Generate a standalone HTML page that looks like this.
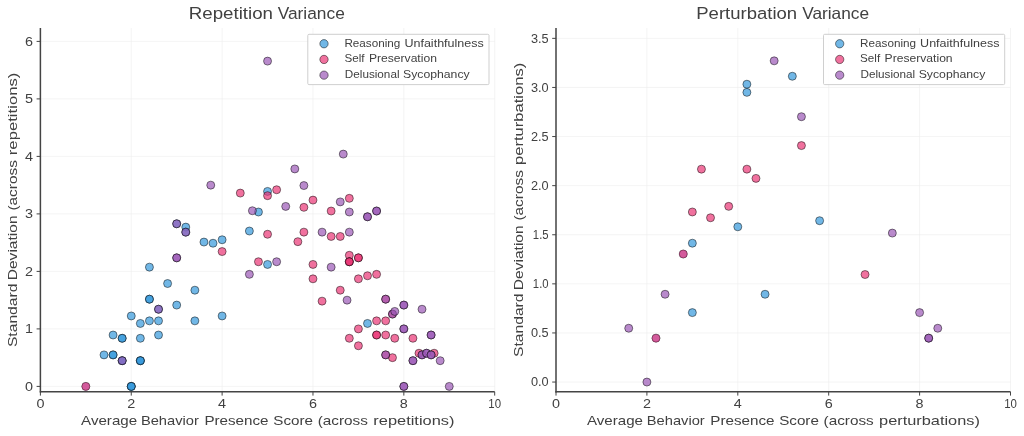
<!DOCTYPE html>
<html><head><meta charset="utf-8"><title>Variance</title>
<style>
html,body{margin:0;padding:0;background:#fff;}
body{width:1024px;height:436px;overflow:hidden;font-family:"Liberation Sans",sans-serif;}
svg{display:block;will-change:transform}
svg text{font-family:"Liberation Sans",sans-serif;filter:grayscale(1)}
</style></head><body>
<svg width="1024" height="436" viewBox="0 0 1024 436">
<rect width="1024" height="436" fill="#fff"/>
<g>
<line x1="40.40" y1="28" x2="40.40" y2="391.8" stroke="#ececec" stroke-width="0.6"/>
<line x1="131.26" y1="28" x2="131.26" y2="391.8" stroke="#ececec" stroke-width="0.6"/>
<line x1="222.12" y1="28" x2="222.12" y2="391.8" stroke="#ececec" stroke-width="0.6"/>
<line x1="312.98" y1="28" x2="312.98" y2="391.8" stroke="#ececec" stroke-width="0.6"/>
<line x1="403.84" y1="28" x2="403.84" y2="391.8" stroke="#ececec" stroke-width="0.6"/>
<line x1="494.70" y1="28" x2="494.70" y2="391.8" stroke="#ececec" stroke-width="0.6"/>
<line x1="40.4" y1="386.40" x2="494.70" y2="386.40" stroke="#ececec" stroke-width="0.6"/>
<line x1="40.4" y1="328.90" x2="494.70" y2="328.90" stroke="#ececec" stroke-width="0.6"/>
<line x1="40.4" y1="271.40" x2="494.70" y2="271.40" stroke="#ececec" stroke-width="0.6"/>
<line x1="40.4" y1="213.90" x2="494.70" y2="213.90" stroke="#ececec" stroke-width="0.6"/>
<line x1="40.4" y1="156.40" x2="494.70" y2="156.40" stroke="#ececec" stroke-width="0.6"/>
<line x1="40.4" y1="98.90" x2="494.70" y2="98.90" stroke="#ececec" stroke-width="0.6"/>
<line x1="40.4" y1="41.40" x2="494.70" y2="41.40" stroke="#ececec" stroke-width="0.6"/>
<g fill-opacity="0.7" stroke="#000" stroke-opacity="0.6" stroke-width="0.8">
<circle cx="131.26" cy="386.40" r="4.0" fill="#3498db"/>
<circle cx="131.26" cy="386.40" r="4.0" fill="#3498db"/>
<circle cx="131.26" cy="386.40" r="4.0" fill="#3498db"/>
<circle cx="104.00" cy="354.89" r="4.0" fill="#3498db"/>
<circle cx="113.09" cy="354.89" r="4.0" fill="#3498db"/>
<circle cx="113.09" cy="354.89" r="4.0" fill="#3498db"/>
<circle cx="140.35" cy="360.70" r="4.0" fill="#3498db"/>
<circle cx="140.35" cy="360.70" r="4.0" fill="#3498db"/>
<circle cx="140.35" cy="360.70" r="4.0" fill="#3498db"/>
<circle cx="113.09" cy="335.00" r="4.0" fill="#3498db"/>
<circle cx="122.17" cy="338.27" r="4.0" fill="#3498db"/>
<circle cx="122.17" cy="338.27" r="4.0" fill="#3498db"/>
<circle cx="140.35" cy="338.27" r="4.0" fill="#3498db"/>
<circle cx="158.52" cy="335.00" r="4.0" fill="#3498db"/>
<circle cx="131.26" cy="315.96" r="4.0" fill="#3498db"/>
<circle cx="140.35" cy="323.44" r="4.0" fill="#3498db"/>
<circle cx="149.43" cy="320.85" r="4.0" fill="#3498db"/>
<circle cx="158.52" cy="320.85" r="4.0" fill="#3498db"/>
<circle cx="149.43" cy="299.17" r="4.0" fill="#3498db"/>
<circle cx="149.43" cy="299.17" r="4.0" fill="#3498db"/>
<circle cx="167.60" cy="283.53" r="4.0" fill="#3498db"/>
<circle cx="176.69" cy="305.09" r="4.0" fill="#3498db"/>
<circle cx="194.86" cy="320.85" r="4.0" fill="#3498db"/>
<circle cx="222.12" cy="315.96" r="4.0" fill="#3498db"/>
<circle cx="194.86" cy="290.20" r="4.0" fill="#3498db"/>
<circle cx="149.43" cy="267.14" r="4.0" fill="#3498db"/>
<circle cx="185.78" cy="227.12" r="4.0" fill="#3498db"/>
<circle cx="203.95" cy="242.07" r="4.0" fill="#3498db"/>
<circle cx="213.03" cy="243.22" r="4.0" fill="#3498db"/>
<circle cx="222.12" cy="239.77" r="4.0" fill="#3498db"/>
<circle cx="249.38" cy="231.03" r="4.0" fill="#3498db"/>
<circle cx="267.55" cy="264.44" r="4.0" fill="#3498db"/>
<circle cx="367.50" cy="323.44" r="4.0" fill="#3498db"/>
<circle cx="267.55" cy="191.42" r="4.0" fill="#3498db"/>
<circle cx="258.46" cy="212.00" r="4.0" fill="#3498db"/>
<circle cx="222.12" cy="251.56" r="4.0" fill="#e93575"/>
<circle cx="267.55" cy="234.25" r="4.0" fill="#e93575"/>
<circle cx="258.46" cy="261.74" r="4.0" fill="#e93575"/>
<circle cx="297.85" cy="241.67" r="4.0" fill="#e93575"/>
<circle cx="303.89" cy="232.13" r="4.0" fill="#e93575"/>
<circle cx="331.15" cy="236.44" r="4.0" fill="#e93575"/>
<circle cx="340.24" cy="236.44" r="4.0" fill="#e93575"/>
<circle cx="312.98" cy="264.44" r="4.0" fill="#e93575"/>
<circle cx="312.98" cy="278.82" r="4.0" fill="#e93575"/>
<circle cx="349.32" cy="255.30" r="4.0" fill="#e93575"/>
<circle cx="349.32" cy="261.74" r="4.0" fill="#e93575"/>
<circle cx="349.32" cy="261.74" r="4.0" fill="#e93575"/>
<circle cx="349.32" cy="261.74" r="4.0" fill="#e93575"/>
<circle cx="358.41" cy="257.83" r="4.0" fill="#e93575"/>
<circle cx="358.41" cy="257.83" r="4.0" fill="#e93575"/>
<circle cx="358.41" cy="278.82" r="4.0" fill="#e93575"/>
<circle cx="367.50" cy="275.77" r="4.0" fill="#e93575"/>
<circle cx="376.58" cy="274.33" r="4.0" fill="#e93575"/>
<circle cx="322.07" cy="301.13" r="4.0" fill="#e93575"/>
<circle cx="340.24" cy="290.20" r="4.0" fill="#e93575"/>
<circle cx="376.58" cy="320.85" r="4.0" fill="#e93575"/>
<circle cx="385.67" cy="320.85" r="4.0" fill="#e93575"/>
<circle cx="358.41" cy="328.90" r="4.0" fill="#e93575"/>
<circle cx="349.32" cy="338.27" r="4.0" fill="#e93575"/>
<circle cx="358.41" cy="345.75" r="4.0" fill="#e93575"/>
<circle cx="376.58" cy="335.00" r="4.0" fill="#e93575"/>
<circle cx="376.58" cy="335.00" r="4.0" fill="#e93575"/>
<circle cx="385.67" cy="335.00" r="4.0" fill="#e93575"/>
<circle cx="394.75" cy="338.27" r="4.0" fill="#e93575"/>
<circle cx="412.93" cy="338.27" r="4.0" fill="#e93575"/>
<circle cx="392.48" cy="357.65" r="4.0" fill="#e93575"/>
<circle cx="418.97" cy="353.22" r="4.0" fill="#e93575"/>
<circle cx="434.14" cy="353.22" r="4.0" fill="#e93575"/>
<circle cx="85.83" cy="386.40" r="4.0" fill="#9b59b6"/>
<circle cx="85.83" cy="386.40" r="4.0" fill="#e93575" fill-opacity="0.55" stroke-opacity="0.2"/>
<circle cx="240.29" cy="193.08" r="4.0" fill="#e93575"/>
<circle cx="267.55" cy="195.67" r="4.0" fill="#e93575"/>
<circle cx="276.64" cy="189.75" r="4.0" fill="#e93575"/>
<circle cx="312.98" cy="200.10" r="4.0" fill="#e93575"/>
<circle cx="303.89" cy="207.34" r="4.0" fill="#e93575"/>
<circle cx="331.15" cy="211.02" r="4.0" fill="#e93575"/>
<circle cx="349.32" cy="198.32" r="4.0" fill="#e93575"/>
<circle cx="122.17" cy="360.70" r="4.0" fill="#3498db"/>
<circle cx="122.17" cy="360.70" r="4.0" fill="#3498db"/>
<circle cx="122.17" cy="360.70" r="4.0" fill="#9b59b6"/>
<circle cx="158.52" cy="309.23" r="4.0" fill="#3498db"/>
<circle cx="158.52" cy="309.23" r="4.0" fill="#9b59b6"/>
<circle cx="176.69" cy="257.83" r="4.0" fill="#9b59b6"/>
<circle cx="176.69" cy="257.83" r="4.0" fill="#9b59b6"/>
<circle cx="176.69" cy="223.79" r="4.0" fill="#3498db"/>
<circle cx="176.69" cy="223.79" r="4.0" fill="#9b59b6"/>
<circle cx="185.78" cy="232.13" r="4.0" fill="#3498db"/>
<circle cx="185.78" cy="232.13" r="4.0" fill="#9b59b6"/>
<circle cx="249.38" cy="274.33" r="4.0" fill="#9b59b6"/>
<circle cx="276.64" cy="261.74" r="4.0" fill="#9b59b6"/>
<circle cx="322.07" cy="232.13" r="4.0" fill="#9b59b6"/>
<circle cx="349.32" cy="232.13" r="4.0" fill="#9b59b6"/>
<circle cx="367.50" cy="216.77" r="4.0" fill="#9b59b6"/>
<circle cx="367.50" cy="216.77" r="4.0" fill="#9b59b6"/>
<circle cx="376.58" cy="211.02" r="4.0" fill="#9b59b6"/>
<circle cx="376.58" cy="211.02" r="4.0" fill="#9b59b6"/>
<circle cx="331.15" cy="267.14" r="4.0" fill="#9b59b6"/>
<circle cx="347.05" cy="300.15" r="4.0" fill="#9b59b6"/>
<circle cx="385.67" cy="299.17" r="4.0" fill="#e93575"/>
<circle cx="385.67" cy="299.17" r="4.0" fill="#9b59b6"/>
<circle cx="403.84" cy="305.09" r="4.0" fill="#9b59b6"/>
<circle cx="403.84" cy="305.09" r="4.0" fill="#9b59b6"/>
<circle cx="422.01" cy="309.23" r="4.0" fill="#9b59b6"/>
<circle cx="392.48" cy="314.06" r="4.0" fill="#e93575"/>
<circle cx="392.48" cy="314.06" r="4.0" fill="#9b59b6"/>
<circle cx="394.75" cy="311.42" r="4.0" fill="#9b59b6"/>
<circle cx="403.84" cy="328.90" r="4.0" fill="#9b59b6"/>
<circle cx="403.84" cy="328.90" r="4.0" fill="#9b59b6"/>
<circle cx="431.10" cy="335.00" r="4.0" fill="#9b59b6"/>
<circle cx="431.10" cy="335.00" r="4.0" fill="#9b59b6"/>
<circle cx="385.67" cy="354.89" r="4.0" fill="#e93575"/>
<circle cx="385.67" cy="354.89" r="4.0" fill="#9b59b6"/>
<circle cx="412.93" cy="360.70" r="4.0" fill="#9b59b6"/>
<circle cx="412.93" cy="360.70" r="4.0" fill="#9b59b6"/>
<circle cx="422.01" cy="354.89" r="4.0" fill="#9b59b6"/>
<circle cx="422.01" cy="354.89" r="4.0" fill="#9b59b6"/>
<circle cx="426.55" cy="353.22" r="4.0" fill="#9b59b6"/>
<circle cx="426.55" cy="353.22" r="4.0" fill="#9b59b6"/>
<circle cx="431.10" cy="354.89" r="4.0" fill="#9b59b6"/>
<circle cx="431.10" cy="354.89" r="4.0" fill="#9b59b6"/>
<circle cx="440.18" cy="360.70" r="4.0" fill="#9b59b6"/>
<circle cx="403.84" cy="386.40" r="4.0" fill="#9b59b6"/>
<circle cx="403.84" cy="386.40" r="4.0" fill="#9b59b6"/>
<circle cx="449.27" cy="386.40" r="4.0" fill="#9b59b6"/>
<circle cx="267.55" cy="61.12" r="4.0" fill="#9b59b6"/>
<circle cx="343.28" cy="154.10" r="4.0" fill="#9b59b6"/>
<circle cx="294.81" cy="168.93" r="4.0" fill="#9b59b6"/>
<circle cx="210.76" cy="185.15" r="4.0" fill="#9b59b6"/>
<circle cx="303.89" cy="185.55" r="4.0" fill="#9b59b6"/>
<circle cx="285.72" cy="206.42" r="4.0" fill="#9b59b6"/>
<circle cx="252.42" cy="210.74" r="4.0" fill="#9b59b6"/>
<circle cx="340.24" cy="201.88" r="4.0" fill="#9b59b6"/>
<circle cx="349.32" cy="212.00" r="4.0" fill="#9b59b6"/>
</g>
<line x1="40.4" y1="28" x2="40.4" y2="392.40000000000003" stroke="#444" stroke-width="1.5"/>
<line x1="39.8" y1="391.8" x2="494.70" y2="391.8" stroke="#444" stroke-width="1.5"/>
<line x1="40.40" y1="391.8" x2="40.40" y2="395.6" stroke="#444" stroke-width="1.0"/>
<text x="36.40" y="407.7" font-size="12.3" textLength="8.00" lengthAdjust="spacingAndGlyphs" fill="#414141">0</text>
<line x1="131.26" y1="391.8" x2="131.26" y2="395.6" stroke="#444" stroke-width="1.0"/>
<text x="127.26" y="407.7" font-size="12.3" textLength="8.00" lengthAdjust="spacingAndGlyphs" fill="#414141">2</text>
<line x1="222.12" y1="391.8" x2="222.12" y2="395.6" stroke="#444" stroke-width="1.0"/>
<text x="218.12" y="407.7" font-size="12.3" textLength="8.00" lengthAdjust="spacingAndGlyphs" fill="#414141">4</text>
<line x1="312.98" y1="391.8" x2="312.98" y2="395.6" stroke="#444" stroke-width="1.0"/>
<text x="308.98" y="407.7" font-size="12.3" textLength="8.00" lengthAdjust="spacingAndGlyphs" fill="#414141">6</text>
<line x1="403.84" y1="391.8" x2="403.84" y2="395.6" stroke="#444" stroke-width="1.0"/>
<text x="399.84" y="407.7" font-size="12.3" textLength="8.00" lengthAdjust="spacingAndGlyphs" fill="#414141">8</text>
<line x1="494.70" y1="391.8" x2="494.70" y2="395.6" stroke="#444" stroke-width="1.0"/>
<text x="488.34" y="407.7" font-size="12.3" textLength="12.72" lengthAdjust="spacingAndGlyphs" fill="#414141">10</text>
<line x1="36.6" y1="386.40" x2="40.4" y2="386.40" stroke="#444" stroke-width="1.0"/>
<text x="25.00" y="390.70" font-size="12.3" textLength="8.00" lengthAdjust="spacingAndGlyphs" fill="#414141">0</text>
<line x1="36.6" y1="328.90" x2="40.4" y2="328.90" stroke="#444" stroke-width="1.0"/>
<text x="25.00" y="333.20" font-size="12.3" textLength="8.00" lengthAdjust="spacingAndGlyphs" fill="#414141">1</text>
<line x1="36.6" y1="271.40" x2="40.4" y2="271.40" stroke="#444" stroke-width="1.0"/>
<text x="25.00" y="275.70" font-size="12.3" textLength="8.00" lengthAdjust="spacingAndGlyphs" fill="#414141">2</text>
<line x1="36.6" y1="213.90" x2="40.4" y2="213.90" stroke="#444" stroke-width="1.0"/>
<text x="25.00" y="218.20" font-size="12.3" textLength="8.00" lengthAdjust="spacingAndGlyphs" fill="#414141">3</text>
<line x1="36.6" y1="156.40" x2="40.4" y2="156.40" stroke="#444" stroke-width="1.0"/>
<text x="25.00" y="160.70" font-size="12.3" textLength="8.00" lengthAdjust="spacingAndGlyphs" fill="#414141">4</text>
<line x1="36.6" y1="98.90" x2="40.4" y2="98.90" stroke="#444" stroke-width="1.0"/>
<text x="25.00" y="103.20" font-size="12.3" textLength="8.00" lengthAdjust="spacingAndGlyphs" fill="#414141">5</text>
<line x1="36.6" y1="41.40" x2="40.4" y2="41.40" stroke="#444" stroke-width="1.0"/>
<text x="25.00" y="45.70" font-size="12.3" textLength="8.00" lengthAdjust="spacingAndGlyphs" fill="#414141">6</text>
<text transform="translate(188.75,18.6) scale(1.1479,1)" font-size="16.3" fill="#414141">Repetition</text>
<text transform="translate(277.70,18.6) scale(1.0636,1)" font-size="16.3" fill="#414141">Variance</text>
<text transform="translate(81.10,424.9) scale(1.1119,1)" font-size="13.6" fill="#414141">Average</text>
<text transform="translate(140.92,424.9) scale(1.0805,1)" font-size="13.6" fill="#414141">Behavior</text>
<text transform="translate(204.38,424.9) scale(1.1187,1)" font-size="13.6" fill="#414141">Presence</text>
<text transform="translate(273.30,424.9) scale(1.1187,1)" font-size="13.6" fill="#414141">Score</text>
<text transform="translate(317.70,424.9) scale(1.1258,1)" font-size="13.6" fill="#414141">(across</text>
<text transform="translate(373.30,424.9) scale(1.2066,1)" font-size="13.6" fill="#414141">repetitions)</text>
<text transform="translate(17.3,347.10) rotate(-90) scale(1.1518,1)" font-size="13.6" fill="#414141">Standard</text>
<text transform="translate(17.3,280.24) rotate(-90) scale(1.1431,1)" font-size="13.6" fill="#414141">Deviation</text>
<text transform="translate(17.3,210.60) rotate(-90) scale(1.1347,1)" font-size="13.6" fill="#414141">(across</text>
<text transform="translate(17.3,155.20) rotate(-90) scale(1.2290,1)" font-size="13.6" fill="#414141">repetitions)</text>
<rect x="307.8" y="34.3" width="181.2" height="50.3" rx="1.2" fill="#fff" fill-opacity="0.9" stroke="#cacaca" stroke-width="0.9"/>
<circle cx="324.0" cy="43.75" r="4.15" fill="#3498db" fill-opacity="0.7" stroke="#000" stroke-opacity="0.6" stroke-width="0.8"/>
<text transform="translate(344.40,46.9) scale(1.0457,1)" font-size="11.2" fill="#414141">Reasoning</text>
<text transform="translate(404.40,46.9) scale(1.1206,1)" font-size="11.2" fill="#414141">Unfaithfulness</text>
<circle cx="324.0" cy="59.45" r="4.15" fill="#e93575" fill-opacity="0.7" stroke="#000" stroke-opacity="0.6" stroke-width="0.8"/>
<text transform="translate(344.40,62.4) scale(1.0412,1)" font-size="11.2" fill="#414141">Self</text>
<text transform="translate(368.90,62.4) scale(1.0834,1)" font-size="11.2" fill="#414141">Preservation</text>
<circle cx="324.0" cy="75.15" r="4.15" fill="#9b59b6" fill-opacity="0.7" stroke="#000" stroke-opacity="0.6" stroke-width="0.8"/>
<text transform="translate(344.80,78.0) scale(1.0473,1)" font-size="11.2" fill="#414141">Delusional</text>
<text transform="translate(403.00,78.0) scale(1.0937,1)" font-size="11.2" fill="#414141">Sycophancy</text>
<line x1="556.00" y1="28" x2="556.00" y2="391.8" stroke="#ececec" stroke-width="0.6"/>
<line x1="646.90" y1="28" x2="646.90" y2="391.8" stroke="#ececec" stroke-width="0.6"/>
<line x1="737.80" y1="28" x2="737.80" y2="391.8" stroke="#ececec" stroke-width="0.6"/>
<line x1="828.70" y1="28" x2="828.70" y2="391.8" stroke="#ececec" stroke-width="0.6"/>
<line x1="919.60" y1="28" x2="919.60" y2="391.8" stroke="#ececec" stroke-width="0.6"/>
<line x1="1010.50" y1="28" x2="1010.50" y2="391.8" stroke="#ececec" stroke-width="0.6"/>
<line x1="556.0" y1="382.05" x2="1010.50" y2="382.05" stroke="#ececec" stroke-width="0.6"/>
<line x1="556.0" y1="332.95" x2="1010.50" y2="332.95" stroke="#ececec" stroke-width="0.6"/>
<line x1="556.0" y1="283.85" x2="1010.50" y2="283.85" stroke="#ececec" stroke-width="0.6"/>
<line x1="556.0" y1="234.75" x2="1010.50" y2="234.75" stroke="#ececec" stroke-width="0.6"/>
<line x1="556.0" y1="185.65" x2="1010.50" y2="185.65" stroke="#ececec" stroke-width="0.6"/>
<line x1="556.0" y1="136.55" x2="1010.50" y2="136.55" stroke="#ececec" stroke-width="0.6"/>
<line x1="556.0" y1="87.45" x2="1010.50" y2="87.45" stroke="#ececec" stroke-width="0.6"/>
<line x1="556.0" y1="38.35" x2="1010.50" y2="38.35" stroke="#ececec" stroke-width="0.6"/>
<g fill-opacity="0.7" stroke="#000" stroke-opacity="0.6" stroke-width="0.8">
<circle cx="692.35" cy="312.62" r="4.0" fill="#3498db"/>
<circle cx="692.35" cy="243.20" r="4.0" fill="#3498db"/>
<circle cx="737.80" cy="226.80" r="4.0" fill="#3498db"/>
<circle cx="765.07" cy="294.26" r="4.0" fill="#3498db"/>
<circle cx="819.61" cy="220.71" r="4.0" fill="#3498db"/>
<circle cx="746.89" cy="92.36" r="4.0" fill="#3498db"/>
<circle cx="746.89" cy="84.21" r="4.0" fill="#3498db"/>
<circle cx="792.34" cy="76.26" r="4.0" fill="#3498db"/>
<circle cx="655.99" cy="338.15" r="4.0" fill="#9b59b6"/>
<circle cx="655.99" cy="338.15" r="4.0" fill="#e93575" fill-opacity="0.55" stroke-opacity="0.2"/>
<circle cx="683.26" cy="254.00" r="4.0" fill="#9b59b6"/>
<circle cx="683.26" cy="254.00" r="4.0" fill="#e93575" fill-opacity="0.55" stroke-opacity="0.2"/>
<circle cx="865.06" cy="274.52" r="4.0" fill="#e93575"/>
<circle cx="710.53" cy="217.76" r="4.0" fill="#e93575"/>
<circle cx="692.35" cy="211.97" r="4.0" fill="#e93575"/>
<circle cx="728.71" cy="206.37" r="4.0" fill="#e93575"/>
<circle cx="701.44" cy="169.15" r="4.0" fill="#e93575"/>
<circle cx="746.89" cy="169.15" r="4.0" fill="#e93575"/>
<circle cx="755.98" cy="178.38" r="4.0" fill="#e93575"/>
<circle cx="801.43" cy="145.58" r="4.0" fill="#e93575"/>
<circle cx="628.72" cy="328.24" r="4.0" fill="#9b59b6"/>
<circle cx="646.90" cy="382.05" r="4.0" fill="#9b59b6"/>
<circle cx="665.08" cy="294.26" r="4.0" fill="#9b59b6"/>
<circle cx="892.33" cy="233.08" r="4.0" fill="#9b59b6"/>
<circle cx="919.60" cy="312.62" r="4.0" fill="#9b59b6"/>
<circle cx="928.69" cy="338.15" r="4.0" fill="#9b59b6"/>
<circle cx="928.69" cy="338.15" r="4.0" fill="#9b59b6"/>
<circle cx="937.78" cy="328.24" r="4.0" fill="#9b59b6"/>
<circle cx="801.43" cy="116.71" r="4.0" fill="#9b59b6"/>
<circle cx="774.16" cy="60.84" r="4.0" fill="#9b59b6"/>
</g>
<line x1="556.0" y1="28" x2="556.0" y2="392.40000000000003" stroke="#444" stroke-width="1.5"/>
<line x1="555.4" y1="391.8" x2="1010.50" y2="391.8" stroke="#444" stroke-width="1.5"/>
<line x1="556.00" y1="391.8" x2="556.00" y2="395.6" stroke="#444" stroke-width="1.0"/>
<text x="552.00" y="407.7" font-size="12.3" textLength="8.00" lengthAdjust="spacingAndGlyphs" fill="#414141">0</text>
<line x1="646.90" y1="391.8" x2="646.90" y2="395.6" stroke="#444" stroke-width="1.0"/>
<text x="642.90" y="407.7" font-size="12.3" textLength="8.00" lengthAdjust="spacingAndGlyphs" fill="#414141">2</text>
<line x1="737.80" y1="391.8" x2="737.80" y2="395.6" stroke="#444" stroke-width="1.0"/>
<text x="733.80" y="407.7" font-size="12.3" textLength="8.00" lengthAdjust="spacingAndGlyphs" fill="#414141">4</text>
<line x1="828.70" y1="391.8" x2="828.70" y2="395.6" stroke="#444" stroke-width="1.0"/>
<text x="824.70" y="407.7" font-size="12.3" textLength="8.00" lengthAdjust="spacingAndGlyphs" fill="#414141">6</text>
<line x1="919.60" y1="391.8" x2="919.60" y2="395.6" stroke="#444" stroke-width="1.0"/>
<text x="915.60" y="407.7" font-size="12.3" textLength="8.00" lengthAdjust="spacingAndGlyphs" fill="#414141">8</text>
<line x1="1010.50" y1="391.8" x2="1010.50" y2="395.6" stroke="#444" stroke-width="1.0"/>
<text x="1004.14" y="407.7" font-size="12.3" textLength="12.72" lengthAdjust="spacingAndGlyphs" fill="#414141">10</text>
<line x1="552.2" y1="382.05" x2="556.0" y2="382.05" stroke="#444" stroke-width="1.0"/>
<text x="530.90" y="386.35" font-size="12.3" textLength="17.70" lengthAdjust="spacingAndGlyphs" fill="#414141">0.0</text>
<line x1="552.2" y1="332.95" x2="556.0" y2="332.95" stroke="#444" stroke-width="1.0"/>
<text x="530.90" y="337.25" font-size="12.3" textLength="17.70" lengthAdjust="spacingAndGlyphs" fill="#414141">0.5</text>
<line x1="552.2" y1="283.85" x2="556.0" y2="283.85" stroke="#444" stroke-width="1.0"/>
<text x="532.87" y="288.15" font-size="12.3" textLength="15.73" lengthAdjust="spacingAndGlyphs" fill="#414141">1.0</text>
<line x1="552.2" y1="234.75" x2="556.0" y2="234.75" stroke="#444" stroke-width="1.0"/>
<text x="532.87" y="239.05" font-size="12.3" textLength="15.73" lengthAdjust="spacingAndGlyphs" fill="#414141">1.5</text>
<line x1="552.2" y1="185.65" x2="556.0" y2="185.65" stroke="#444" stroke-width="1.0"/>
<text x="530.90" y="189.95" font-size="12.3" textLength="17.70" lengthAdjust="spacingAndGlyphs" fill="#414141">2.0</text>
<line x1="552.2" y1="136.55" x2="556.0" y2="136.55" stroke="#444" stroke-width="1.0"/>
<text x="530.90" y="140.85" font-size="12.3" textLength="17.70" lengthAdjust="spacingAndGlyphs" fill="#414141">2.5</text>
<line x1="552.2" y1="87.45" x2="556.0" y2="87.45" stroke="#444" stroke-width="1.0"/>
<text x="530.90" y="91.75" font-size="12.3" textLength="17.70" lengthAdjust="spacingAndGlyphs" fill="#414141">3.0</text>
<line x1="552.2" y1="38.35" x2="556.0" y2="38.35" stroke="#444" stroke-width="1.0"/>
<text x="530.90" y="42.65" font-size="12.3" textLength="17.70" lengthAdjust="spacingAndGlyphs" fill="#414141">3.5</text>
<text transform="translate(696.26,18.6) scale(1.1369,1)" font-size="16.3" fill="#414141">Perturbation</text>
<text transform="translate(802.20,18.6) scale(1.0604,1)" font-size="16.3" fill="#414141">Variance</text>
<text transform="translate(587.00,424.9) scale(1.1119,1)" font-size="13.6" fill="#414141">Average</text>
<text transform="translate(646.82,424.9) scale(1.0805,1)" font-size="13.6" fill="#414141">Behavior</text>
<text transform="translate(710.28,424.9) scale(1.1187,1)" font-size="13.6" fill="#414141">Presence</text>
<text transform="translate(779.20,424.9) scale(1.1187,1)" font-size="13.6" fill="#414141">Score</text>
<text transform="translate(823.60,424.9) scale(1.1258,1)" font-size="13.6" fill="#414141">(across</text>
<text transform="translate(879.10,424.9) scale(1.2022,1)" font-size="13.6" fill="#414141">perturbations)</text>
<text transform="translate(522.5,357.00) rotate(-90) scale(1.1518,1)" font-size="13.6" fill="#414141">Standard</text>
<text transform="translate(522.5,290.14) rotate(-90) scale(1.1431,1)" font-size="13.6" fill="#414141">Deviation</text>
<text transform="translate(522.5,220.60) rotate(-90) scale(1.1347,1)" font-size="13.6" fill="#414141">(across</text>
<text transform="translate(522.5,165.00) rotate(-90) scale(1.2190,1)" font-size="13.6" fill="#414141">perturbations)</text>
<rect x="823.5" y="34.3" width="181.2" height="50.3" rx="1.2" fill="#fff" fill-opacity="0.9" stroke="#cacaca" stroke-width="0.9"/>
<circle cx="839.7" cy="43.75" r="4.15" fill="#3498db" fill-opacity="0.7" stroke="#000" stroke-opacity="0.6" stroke-width="0.8"/>
<text transform="translate(860.10,46.9) scale(1.0457,1)" font-size="11.2" fill="#414141">Reasoning</text>
<text transform="translate(920.10,46.9) scale(1.1206,1)" font-size="11.2" fill="#414141">Unfaithfulness</text>
<circle cx="839.7" cy="59.45" r="4.15" fill="#e93575" fill-opacity="0.7" stroke="#000" stroke-opacity="0.6" stroke-width="0.8"/>
<text transform="translate(860.10,62.4) scale(1.0412,1)" font-size="11.2" fill="#414141">Self</text>
<text transform="translate(884.60,62.4) scale(1.0834,1)" font-size="11.2" fill="#414141">Preservation</text>
<circle cx="839.7" cy="75.15" r="4.15" fill="#9b59b6" fill-opacity="0.7" stroke="#000" stroke-opacity="0.6" stroke-width="0.8"/>
<text transform="translate(860.50,78.0) scale(1.0473,1)" font-size="11.2" fill="#414141">Delusional</text>
<text transform="translate(918.70,78.0) scale(1.0937,1)" font-size="11.2" fill="#414141">Sycophancy</text>
</g>
</svg>
</body></html>
